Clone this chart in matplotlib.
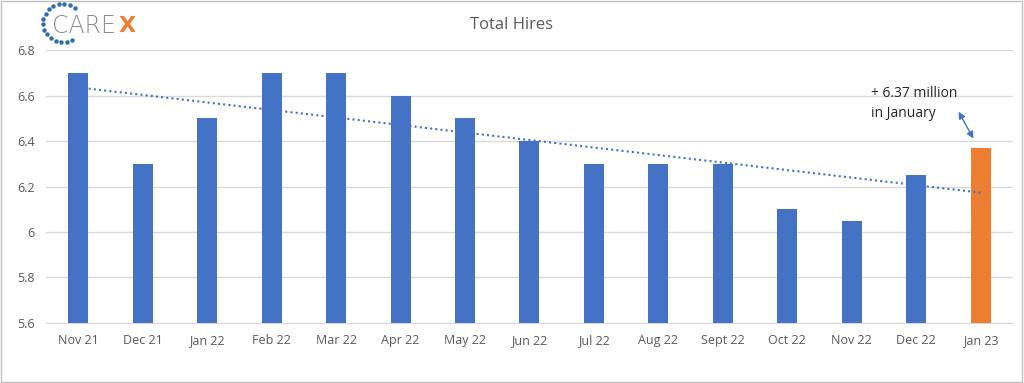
import numpy as np
import matplotlib.pyplot as plt
from matplotlib.patches import Rectangle

months = ['Nov 21', 'Dec 21', 'Jan 22', 'Feb 22', 'Mar 22', 'Apr 22', 'May 22', 'Jun 22',
          'Jul 22', 'Aug 22', 'Sept 22', 'Oct 22', 'Nov 22', 'Dec 22', 'Jan 23']
hires = [6.7, 6.3, 6.5, 6.7, 6.7, 6.6, 6.5, 6.4, 6.3, 6.3, 6.3, 6.1, 6.05, 6.25, 6.37]

blue = '#4472C4'
orange = '#ED7D31'
grey_txt = '#595959'

plt.rcParams['font.family'] = ['Open Sans', 'DejaVu Sans']

fig = plt.figure(figsize=(10.24, 3.83), dpi=100)
ax = fig.add_axes([0.045, 0.157, 0.944, 0.712])

x = np.arange(len(months))
colors = [blue] * (len(months) - 1) + [orange]
ax.bar(x, hires, width=0.31, color=colors, zorder=3)

# linear trendline
k, b = np.polyfit(x, hires, 1)
ax.plot(x, k * x + b, ls=(0, (1, 1.5)), color=blue, lw=1.5, zorder=4)

ax.set_ylim(5.6, 6.8)
ax.set_xlim(-0.5, len(months) - 0.5)
ax.set_yticks([5.6, 5.8, 6.0, 6.2, 6.4, 6.6, 6.8])
ax.set_yticklabels(['5.6', '5.8', '6', '6.2', '6.4', '6.6', '6.8'])
ax.set_xticks(x)
ax.set_xticklabels(months)
ax.tick_params(length=0, labelsize=9, colors=grey_txt, pad=8)
ax.grid(axis='y', color='#D9D9D9', lw=1, zorder=0)
for s in ['top', 'right', 'left']:
    ax.spines[s].set_visible(False)
ax.spines['bottom'].set_color('#D9D9D9')

fig.text(0.5, 0.935, 'Total Hires', ha='center', va='center', fontsize=12, color=grey_txt)

# annotation
ax.text(12.3, 6.565, '+ 6.37 million\nin January', fontsize=10, color='#262626',
        va='center', ha='left', linespacing=1.5)
ax.annotate('', xy=(13.91, 6.4), xytext=(13.64, 6.54),
            arrowprops=dict(arrowstyle='<|-|>', color=blue, lw=1, mutation_scale=10))

# logo
ang = np.linspace(np.deg2rad(53), np.deg2rad(298), 16)
fig.add_artist(plt.Line2D(0.0615 + 0.0195 * np.cos(ang), 0.94 + 0.05 * np.sin(ang),
                          ls='none', marker='o', ms=2.2, color='#2E6DB4'))
fig.text(0.051, 0.933, 'CARE', fontsize=17, color='#8C8C8C', va='center', ha='left',
         family='DejaVu Sans', weight='light')
fig.text(0.1155, 0.933, 'X', fontsize=16, color=orange, va='center', ha='left',
         family='DejaVu Sans', weight='bold')

fig.add_artist(Rectangle((0.001, 0.002), 0.997, 0.995, transform=fig.transFigure,
                         fill=False, ec='#BFBFBF', lw=1))

fig.savefig('out.png', dpi=100)
